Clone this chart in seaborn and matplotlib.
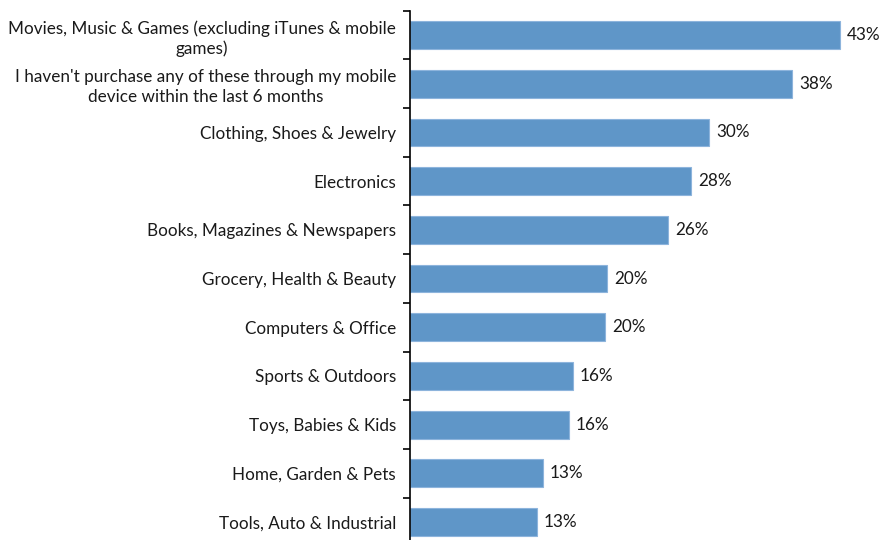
import numpy as np
import pandas as pd
import matplotlib
matplotlib.use("Agg")
import matplotlib.pyplot as plt
import seaborn as sns
from matplotlib.ticker import FixedLocator

categories = [
    "Movies, Music & Games (excluding iTunes & mobile\ngames)",
    "I haven't purchase any of these through my mobile\ndevice within the last 6 months",
    "Clothing, Shoes & Jewelry",
    "Electronics",
    "Books, Magazines & Newspapers",
    "Grocery, Health & Beauty",
    "Computers & Office",
    "Sports & Outdoors",
    "Toys, Babies & Kids",
    "Home, Garden & Pets",
    "Tools, Auto & Industrial",
]
shares = [43.0, 38.2, 29.9, 28.1, 25.8, 19.7, 19.5, 16.3, 15.9, 13.3, 12.7]

df = pd.DataFrame({"category": categories, "share": shares})

sns.set_theme(style="white")
plt.rcParams["font.family"] = ["Lato", "DejaVu Sans"]

fig = plt.figure(figsize=(8.9, 5.4), dpi=100)
ax = fig.add_axes([410 / 890, -6.4 / 540, 480 / 890, 535.7 / 540])

sns.barplot(data=df, x="share", y="category", orient="h", color="#5F96C8",
            saturation=1, width=0.57, edgecolor="#8DB4DC", linewidth=0.8, ax=ax)

ax.set_xlim(0, 48)
ax.set_ylim(len(categories) - 0.5, -0.5)
ax.set_xlabel("")
ax.set_ylabel("")
ax.set_xticks([])

for s in ["top", "right", "bottom"]:
    ax.spines[s].set_visible(False)
ax.spines["left"].set_color("black")
ax.spines["left"].set_linewidth(1.2)

# labels at bar centres, tick marks at category boundaries
ax.tick_params(axis="y", which="major", length=0, pad=10, labelsize=12.3,
               labelcolor="#1a1a1a")
ax.yaxis.set_minor_locator(FixedLocator(np.arange(-0.5, len(categories), 1.0)))
ax.tick_params(axis="y", which="minor", length=5, width=1.2, color="black",
               direction="out", left=True)
for lbl in ax.get_yticklabels():
    lbl.set_multialignment("center")
    lbl.set_linespacing(1.3)

for i, v in enumerate(shares):
    ax.annotate(f"{v:.0f}%", xy=(v, i), xytext=(5, 0), textcoords="offset points",
                ha="left", va="center", fontsize=12.3, color="#1a1a1a")

fig.savefig("out.png", dpi=100)
